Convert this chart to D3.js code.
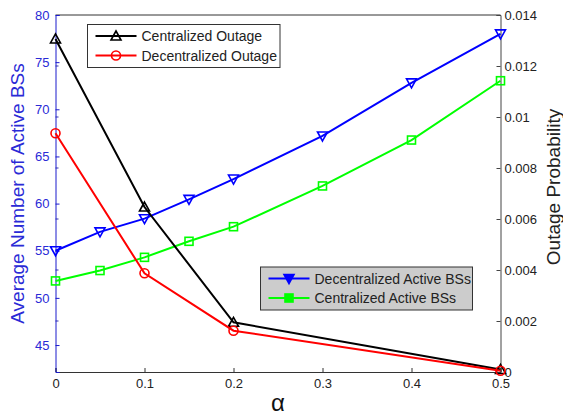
<!DOCTYPE html>
<meta charset="utf-8">
<head>
  <title>Active BSs and outage vs alpha</title>
</head>
<style>
body { margin: 0; background: #fff; }
text { font-family: "Liberation Sans", Arial, sans-serif; }
</style>
<body>
<svg width="563" height="415"></svg>
<script src="https://cdnjs.cloudflare.com/ajax/libs/d3/7.8.5/d3.min.js"></script>
<script>

var alphaFine = [0, 0.05, 0.1, 0.15, 0.2, 0.3, 0.4, 0.5];
var decActive = [55.0, 57.0, 58.4, 60.45, 62.6, 67.17, 72.8, 78.0];
var cenActive = [51.8, 52.9, 54.3, 56.0, 57.55, 61.87, 66.74, 73.03];

var alphaCoarse = [0, 0.1, 0.2, 0.5];
var cenOutage = [0.01306, 0.00647, 0.00195, 0.0001];
var decOutage = [0.00936, 0.00387, 0.00162, 0.00005];

var xTicks = [0, 0.1, 0.2, 0.3, 0.4, 0.5];
var leftTicks = [45, 50, 55, 60, 65, 70, 75, 80];
var rightTicks = [0, 0.002, 0.004, 0.006, 0.008, 0.01, 0.012, 0.014];

var pLeft = 55.5, pRight = 500.5, pTop = 15, pBottom = 372;
var blueText = '#2a2ad6';
var font = '"Liberation Sans", Arial, sans-serif';

var svg = d3.select('svg');

var x = d3.scaleLinear().domain([0, 0.5]).range([pLeft, pRight]);
var yL = d3.scaleLinear().domain([42.14, 80]).range([pBottom, pTop]);
var yR = d3.scaleLinear().domain([0, 0.014]).range([pBottom, pTop]);

// frame top
svg.append('line').attr('x1', pLeft).attr('x2', pRight).attr('y1', pTop).attr('y2', pTop)
  .attr('stroke', '#333').attr('stroke-width', 1);

// x axis
var gx = svg.append('g').attr('transform', 'translate(0,' + pBottom + ')')
  .call(d3.axisBottom(x).tickValues(xTicks).tickSize(-4).tickPadding(7)
    .tickFormat(function(d) { return d3.format('~g')(d); }));
gx.select('.domain').attr('stroke', '#333');
gx.selectAll('.tick line').attr('stroke', '#333');
gx.selectAll('text').attr('font-size', 13).attr('fill', '#222').attr('font-family', font);

// right-axis ticks mirrored on the left side
svg.append('g').selectAll('line').data(rightTicks.slice(1, -1)).enter().append('line')
  .attr('x1', pLeft).attr('x2', pLeft + 3)
  .attr('y1', function(d) { return yR(d); }).attr('y2', function(d) { return yR(d); })
  .attr('stroke', '#3333aa');

// left axis
var gl = svg.append('g').attr('transform', 'translate(' + pLeft + ',0)')
  .call(d3.axisLeft(yL).tickValues(leftTicks).tickSize(-4).tickPadding(6));
gl.select('.domain').attr('stroke', '#1a1acc');
gl.selectAll('.tick line').attr('stroke', '#1a1acc');
gl.selectAll('text').attr('font-size', 13).attr('fill', blueText).attr('font-family', font);

// right axis
var gr = svg.append('g').attr('transform', 'translate(' + pRight + ',0)')
  .call(d3.axisRight(yR).tickValues(rightTicks).tickSize(-4).tickPadding(4)
    .tickFormat(function(d) { return d3.format('~g')(d); }));
gr.select('.domain').attr('stroke', '#444');
gr.selectAll('.tick line').attr('stroke', '#444');
gr.selectAll('text').attr('font-size', 13).attr('fill', '#222').attr('font-family', font);

// axis titles
svg.append('text').attr('transform', 'translate(24,' + ((pTop + pBottom) / 2) + ') rotate(-90)')
  .attr('text-anchor', 'middle').attr('font-size', 19).attr('fill', blueText)
  .text('Average Number of Active BSs');
svg.append('text').attr('transform', 'translate(560,' + (187) + ') rotate(-90)')
  .attr('text-anchor', 'middle').attr('font-size', 19).attr('fill', '#222')
  .text('Outage Probability');
svg.append('text').attr('x', (pLeft + pRight) / 2).attr('y', 411)
  .attr('text-anchor', 'middle').attr('font-size', 24).attr('fill', '#111')
  .text('α');

function marker(g, shape, color, cx, cy, filled) {
  var s = 5;
  if (shape === 'up') {
    g.append('path').attr('d', 'M' + cx + ',' + (cy - s) + 'L' + (cx + s) + ',' + (cy + s * 0.8) + 'L' + (cx - s) + ',' + (cy + s * 0.8) + 'Z')
      .attr('fill', filled ? color : 'none').attr('stroke', color).attr('stroke-width', 1.6);
  } else if (shape === 'down') {
    g.append('path').attr('d', 'M' + cx + ',' + (cy + s) + 'L' + (cx + s) + ',' + (cy - s * 0.8) + 'L' + (cx - s) + ',' + (cy - s * 0.8) + 'Z')
      .attr('fill', filled ? color : 'none').attr('stroke', color).attr('stroke-width', 1.6);
  } else if (shape === 'circle') {
    g.append('circle').attr('cx', cx).attr('cy', cy).attr('r', 4.5)
      .attr('fill', filled ? color : 'none').attr('stroke', color).attr('stroke-width', 1.6);
  } else {
    g.append('rect').attr('x', cx - 4).attr('y', cy - 4).attr('width', 8).attr('height', 8)
      .attr('fill', filled ? color : 'none').attr('stroke', color).attr('stroke-width', 1.6);
  }
}

var series = [
  { xs: alphaFine, ys: decActive, scale: yL, color: '#0000ff', shape: 'down' },
  { xs: alphaFine, ys: cenActive, scale: yL, color: '#00ff00', shape: 'square' },
  { xs: alphaCoarse, ys: cenOutage, scale: yR, color: '#000000', shape: 'up' },
  { xs: alphaCoarse, ys: decOutage, scale: yR, color: '#ff0000', shape: 'circle' }
];

series.forEach(function(s) {
  var pts = s.xs.map(function(a, i) { return [x(a), s.scale(s.ys[i])]; });
  var g = svg.append('g');
  g.append('path').attr('d', d3.line()(pts)).attr('fill', 'none')
    .attr('stroke', s.color).attr('stroke-width', 2);
  pts.forEach(function(p) { marker(g, s.shape, s.color, p[0], p[1], false); });
});

// legends
function legend(x0, y0, w, h, fill, items) {
  var g = svg.append('g');
  g.append('rect').attr('x', x0).attr('y', y0).attr('width', w).attr('height', h)
    .attr('fill', fill).attr('stroke', '#333').attr('stroke-width', 1);
  items.forEach(function(it, i) {
    var cy = y0 + 11.5 + i * 19.5;
    g.append('line').attr('x1', x0 + 8).attr('x2', x0 + 49).attr('y1', cy).attr('y2', cy)
      .attr('stroke', it.color).attr('stroke-width', 2);
    marker(g, it.shape, it.color, x0 + 28.5, cy, it.filled);
    g.append('text').attr('x', x0 + 54).attr('y', cy + 5).attr('font-size', 14)
      .attr('fill', '#222').text(it.label);
  });
}

legend(87.5, 24.5, 192.5, 43, '#ffffff', [
  { label: 'Centralized Outage', color: '#000000', shape: 'up', filled: false },
  { label: 'Decentralized Outage', color: '#ff0000', shape: 'circle', filled: false }
]);
legend(260.5, 267, 212, 43, '#cccccc', [
  { label: 'Decentralized Active BSs', color: '#0000ff', shape: 'down', filled: true },
  { label: 'Centralized Active BSs', color: '#00ff00', shape: 'square', filled: true }
]);

</script>
</body>
</html>
